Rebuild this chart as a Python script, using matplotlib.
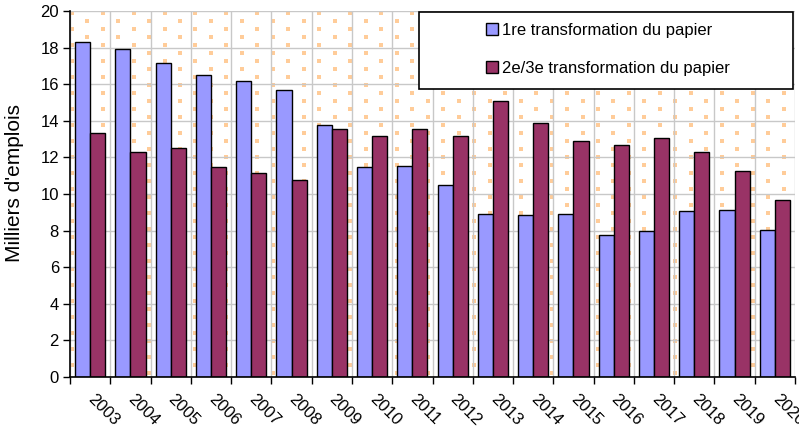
import numpy as np
import matplotlib.pyplot as plt
from matplotlib.patches import Rectangle
from matplotlib.transforms import IdentityTransform, ScaledTranslation

plt.rcParams['font.family'] = ['Liberation Sans', 'DejaVu Sans']

# Données (milliers d'emplois)
annees = [str(a) for a in range(2003, 2021)]
premiere = [18.3, 17.93, 17.18, 16.49, 16.19, 15.68, 13.79, 11.45, 11.53, 10.49,
            8.88, 8.83, 8.9, 7.77, 7.99, 9.05, 9.12, 8.06]
deuxieme = [13.33, 12.27, 12.51, 11.45, 11.14, 10.76, 13.57, 13.18, 13.57, 13.18,
            15.08, 13.86, 12.89, 12.66, 13.04, 12.29, 11.24, 9.65]
series = ['1re transformation du papier', '2e/3e transformation du papier']

W, H = 799, 429
fig = plt.figure(figsize=(W / 100, H / 100), dpi=100)
x0, x1, ytop, ybot = 70, 795, 11, 377
ax = fig.add_axes([x0 / W, (H - ybot) / H, (x1 - x0) / W, (ybot - ytop) / H])
ax.set_facecolor('white')

# motif de points orange (fond type Excel)
px, py = [], []
for j, yy in enumerate(np.arange(13, ybot, 8.0)):
    off = 71.7 if j % 2 == 0 else 71.7 + 15.5
    for xx in np.arange(off - 31, x1 + 5, 30.96):
        px.append(xx)
        py.append(H - yy)
dots = ax.scatter(px, py, s=8, marker='s', color='#FFCC99', linewidths=0,
                  transform=IdentityTransform(), zorder=0.5)
dots.set_clip_path(ax.patch)

x = np.arange(len(annees))
w = 0.375
ax.bar(x - w / 2, premiere, w, color='#9999FF', edgecolor='black', linewidth=1, label=series[0], zorder=3)
ax.bar(x + w / 2, deuxieme, w, color='#993366', edgecolor='black', linewidth=1, label=series[1], zorder=3)

ax.set_xlim(-0.5, len(annees) - 0.5)
ax.set_ylim(0, 20)
ax.set_yticks(np.arange(0, 21, 2))
ax.set_xticks(np.arange(-0.5, len(annees), 1))
ax.set_xticklabels([])
ax.set_xticks(x, minor=True)
ax.set_xticklabels(annees, minor=True, rotation=-45, ha='left', va='center',
                   rotation_mode='anchor', fontsize=12)
shift = ScaledTranslation(-5 / 100, 0, fig.dpi_scale_trans)
for lab in ax.get_xticklabels(minor=True):
    lab.set_transform(lab.get_transform() + shift)
ax.tick_params(axis='x', which='minor', length=0, pad=14)
ax.tick_params(axis='both', which='major', direction='out', length=5, width=1, labelsize=12)
ax.tick_params(axis='y', pad=3)
ax.grid(True, which='major', color='#C8C8C8', linewidth=1, zorder=1)
ax.set_axisbelow(True)
for s in ['top', 'right']:
    ax.spines[s].set_visible(False)
for s in ['left', 'bottom']:
    ax.spines[s].set_linewidth(1.2)
    ax.spines[s].set_zorder(4)

ax.set_ylabel("Milliers d'emplois", fontsize=15, va='center')
ax.yaxis.set_label_coords(-0.076, 0.53)

# cadre de la légende
ax.add_patch(Rectangle((0.481, 0.787), 0.516, 0.21, transform=ax.transAxes,
                       facecolor='white', edgecolor='black', linewidth=1.2, zorder=5))
ax.legend(loc='upper left', bbox_to_anchor=(0.574, 0.968), frameon=False,
          fontsize=12, handlelength=0.7, handleheight=0.7, handletextpad=0.25,
          labelspacing=1.4, borderpad=0, borderaxespad=0).set_zorder(6)

fig.savefig('out.png', dpi=100)
